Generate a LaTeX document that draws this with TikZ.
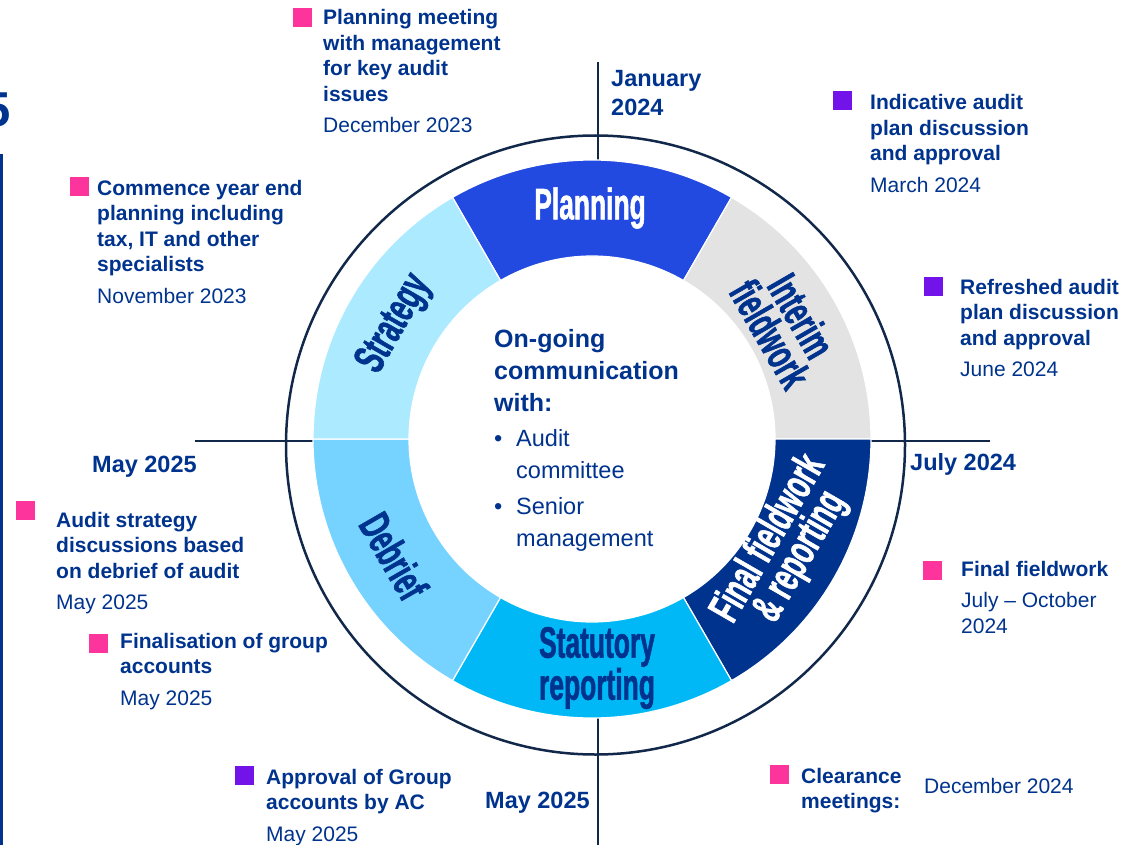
\documentclass[tikz,border=0pt]{standalone}
\usepackage{fontspec}
\setmainfont{Liberation Sans}
\newfontfamily\segfont[FakeStretch=0.6,FakeBold=1.2]{Liberation Sans}
\definecolor{navy}{HTML}{00338D}
\definecolor{axisc}{HTML}{12284A}
\definecolor{pinkc}{HTML}{FD349C}
\definecolor{purplec}{HTML}{7213EA}
\definecolor{planc}{HTML}{224AE0}
\definecolor{interc}{HTML}{E3E3E3}
\definecolor{finalc}{HTML}{00338D}
\definecolor{statc}{HTML}{00B8F5}
\definecolor{debc}{HTML}{76D2FF}
\definecolor{stratc}{HTML}{ACEAFF}
\newcommand{\ringseg}[3]{%
  \fill[#3, draw=white, line width=1.2pt] (#1:279) arc[start angle=#1, end angle=#2, radius=279]
    -- (#2:183) arc[start angle=#2, end angle=#1, radius=183] -- cycle;}
\begin{document}
\begin{tikzpicture}[x=1pt,y=-1pt,
  ann/.style={anchor=base west, align=left, inner sep=0pt, text=navy, font=\fontsize{21}{25.5}\selectfont},
  axlbl/.style={anchor=base west, align=left, inner sep=0pt, text=navy, font=\fontsize{23.5}{29}\selectfont\bfseries},
  pinksq/.style={minimum size=19pt, inner sep=0pt, fill=pinkc},
  purplesq/.style={minimum size=19pt, inner sep=0pt, fill=purplec},
  seglbl/.style={align=center, inner sep=0pt, font=\segfont\bfseries\fontsize{44}{36}\selectfont},
  axisline/.style={draw=axisc, line width=2.5pt}]
\useasboundingbox (0,0) rectangle (1124,845);

% left edge remnants
\draw[navy, line width=3pt] (1.5,154) -- (1.5,845);
\node[anchor=base east, inner sep=0pt, text=navy, font=\fontsize{49}{49}\selectfont\bfseries] (five) at (10.5,127) {5};

% outer circle and axes
\draw[axisline] (595.5,445) circle[radius=309.5];
\coordinate (lt) at (195,441);
\coordinate (lr) at (313,441);
\coordinate (rl) at (871,441);
\coordinate (rt) at (990,441);
\coordinate (tt) at (598,62);
\coordinate (tb) at (598,161);
\coordinate (bt) at (598,717);
\coordinate (bb) at (598,845);
\draw[axisline] (lt) -- (lr);
\draw[axisline] (rl) -- (rt);
\draw[axisline] (tt) -- (tb);
\draw[axisline] (bt) -- (bb);

% ring
\begin{scope}[shift={(592,439)}, y=1pt]
\ringseg{60}{120}{planc}
\ringseg{0}{60}{interc}
\ringseg{300}{360}{finalc}
\ringseg{240}{300}{statc}
\ringseg{180}{240}{debc}
\ringseg{120}{180}{stratc}
\end{scope}

% segment labels
\node[seglbl, text=white] (lplan) at (590,208) {Planning};
\node[seglbl, text=navy, rotate=-60] (linter) at (786,325) {Interim\\fieldwork};
\node[seglbl, text=white, rotate=60] (lfinal) at (785,548) {Final fieldwork\\\& reporting};
\node[seglbl, text=navy] (lstat) at (597,668) {Statutory\\reporting};
\node[seglbl, text=navy, rotate=-60] (ldeb) at (394,556) {Debrief};
\node[seglbl, text=navy, rotate=60] (lstrat) at (395,324) {Strategy};

% centre text (base anchor = last line)
\node[anchor=base west, align=left, inner sep=0pt, text=navy, font=\fontsize{25}{32}\selectfont\bfseries] (ctitle) at (494,411) {On-going\\communication\\with:};
\node[anchor=base west, align=left, inner sep=0pt, text=navy, font=\fontsize{23.5}{32}\selectfont] (clist) at (494,546) {\makebox[22pt][l]{\textbullet}Audit\\\hspace*{22pt}committee\\[4pt]\makebox[22pt][l]{\textbullet}Senior\\\hspace*{22pt}management};

% axis date labels
\node[axlbl] (jan) at (611,116) {January\\2024};
\node[axlbl] (may1) at (92,472) {May 2025};
\node[axlbl] (jul) at (910,470) {July 2024};
\node[axlbl] (may2) at (485,808) {May 2025};

% annotations (base anchor = last line)
\node[pinksq] (s1) at (302,18) {};
\node[ann] (t1) at (323,133) {\textbf{Planning meeting}\\\textbf{with management}\\\textbf{for key audit}\\\textbf{issues}\\[6pt]December 2023};

\node[purplesq] (s2) at (842,101) {};
\node[ann] (t2) at (870,192.5) {\textbf{Indicative audit}\\\textbf{plan discussion}\\\textbf{and approval}\\[6pt]March 2024};

\node[pinksq] (s3) at (79,187) {};
\node[ann] (t3) at (97,303) {\textbf{Commence year end}\\\textbf{planning including}\\\textbf{tax, IT and other}\\\textbf{specialists}\\[6pt]November 2023};

\node[purplesq] (s4) at (933,286) {};
\node[ann] (t4) at (960,376.5) {\textbf{Refreshed audit}\\\textbf{plan discussion}\\\textbf{and approval}\\[6pt]June 2024};

\node[pinksq] (s5) at (25.5,510.5) {};
\node[ann] (t5) at (56,609.5) {\textbf{Audit strategy}\\\textbf{discussions based}\\\textbf{on debrief of audit}\\[6pt]May 2025};

\node[pinksq] (s6) at (98.5,643.5) {};
\node[ann] (t6) at (120,705) {\textbf{Finalisation of group}\\\textbf{accounts}\\[6pt]May 2025};

\node[pinksq] (s7) at (932.5,570.5) {};
\node[ann] (t7) at (961,633) {\textbf{Final fieldwork}\\[6pt]July -- October\\2024};

\node[purplesq] (s8) at (244.5,775) {};
\node[ann] (t8) at (266,841) {\textbf{Approval of Group}\\\textbf{accounts by AC}\\[6pt]May 2025};

\node[pinksq] (s9) at (779.5,774.5) {};
\node[ann] (t9) at (801,808.5) {\textbf{Clearance}\\\textbf{meetings:}};
\node[ann] (t9d) at (924,793) {December 2024};
\end{tikzpicture}
\end{document}
